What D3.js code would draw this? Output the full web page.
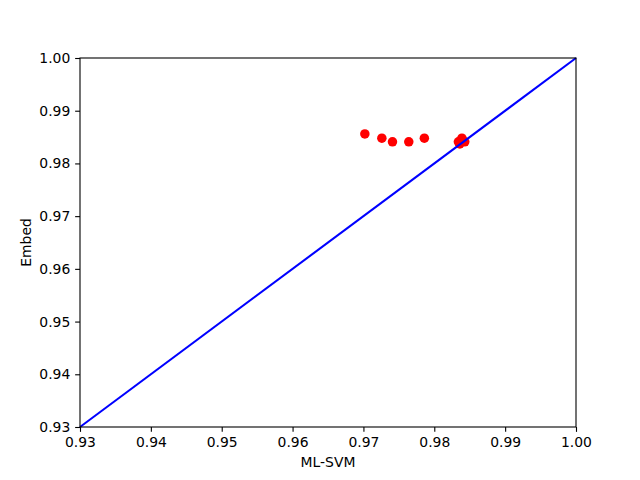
<!DOCTYPE html>
<html><head><meta charset="utf-8">
<script src="https://cdn.jsdelivr.net/npm/d3@7"></script>
<style>body{margin:0;background:#fff}svg{display:block}text{font-family:"DejaVu Sans",sans-serif}</style>
</head><body><svg id="c" width="640" height="480"></svg>
<script>
const xValues = [0.9702, 0.9726, 0.9741, 0.9764, 0.9786, 0.9834, 0.9839, 0.9843, 0.9836];
const yValues = [0.9856, 0.9848, 0.9841, 0.9841, 0.9848, 0.9841, 0.9848, 0.9841, 0.9837];
const tickValues = [0.93, 0.94, 0.95, 0.96, 0.97, 0.98, 0.99, 1.00];
const lineX = [0.93, 1.00];
const xLabel = "ML-SVM", yLabel = "Embed";

const svg = d3.select("#c");
const L = 80, R = 576, T = 58, B = 427;
const x = d3.scaleLinear().domain([0.93, 1.00]).range([L, R]);
const y = d3.scaleLinear().domain([0.93, 1.00]).range([B, T]);

const g = svg.append("g");
g.selectAll("circle").data(xValues).join("circle")
  .attr("cx", d => x(d)).attr("cy", (d, i) => y(yValues[i]))
  .attr("r", 4.75).attr("fill", "#ff0000");

svg.append("path").datum(lineX)
  .attr("d", d3.line().x(d => x(d)).y(d => y(d)))
  .attr("stroke", "#0000ff").attr("stroke-width", 2.08).attr("fill", "none");

const fmt = d3.format(".2f");
const xa = svg.append("g").attr("transform", `translate(0,${B})`)
  .call(d3.axisBottom(x).tickValues(tickValues).tickFormat(fmt).tickSize(4.86).tickPadding(4.9));
const ya = svg.append("g").attr("transform", `translate(${L},0)`)
  .call(d3.axisLeft(y).tickValues(tickValues).tickFormat(fmt).tickSize(4.86).tickPadding(4.9));
[xa, ya].forEach(a => {
  a.select(".domain").remove();
  a.selectAll("text").attr("font-size", 13.9).attr("fill", "#000").attr("font-family", "DejaVu Sans");
  a.selectAll("line").attr("stroke", "#000").attr("stroke-width", 1.1);
});
svg.append("rect").attr("x", L).attr("y", T).attr("width", R - L).attr("height", B - T)
  .attr("fill", "none").attr("stroke", "#000").attr("stroke-width", 1.1);

svg.append("text").attr("x", (L + R) / 2).attr("y", 467).attr("text-anchor", "middle")
  .attr("font-size", 13.9).text(xLabel);
svg.append("text").attr("transform", `translate(31,${(T + B) / 2}) rotate(-90)`)
  .attr("text-anchor", "middle").attr("font-size", 13.9).text(yLabel);
</script></body></html>
